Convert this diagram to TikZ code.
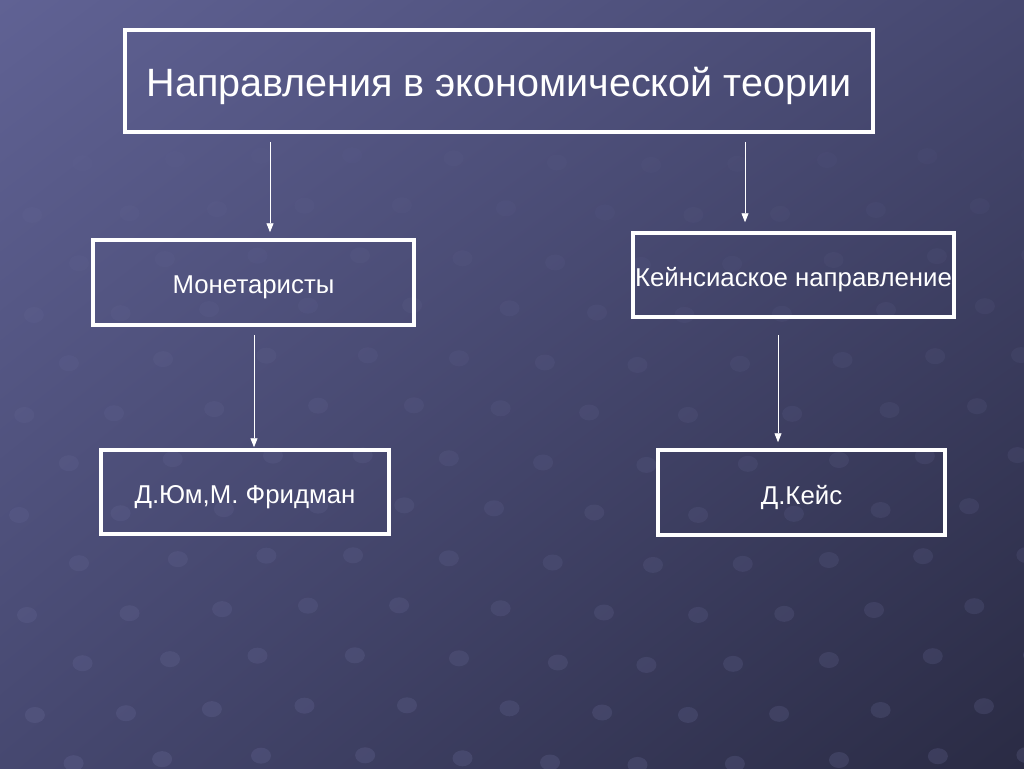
\documentclass[tikz,border=0pt]{standalone}
\usepackage{fontspec}
\setmainfont{Liberation Sans}
\usetikzlibrary{arrows.meta,shadings}
\definecolor{bgtop}{RGB}{96,98,148}
\definecolor{bgmid}{RGB}{70,72,112}
\definecolor{bgbot}{RGB}{42,43,68}
\definecolor{dotc}{RGB}{120,122,170}
\newcommand{\lowtxt}[1]{\raisebox{-5pt}[\height][\depth]{#1}}
\begin{document}
\begin{tikzpicture}[x=1pt,y=-1pt,>={Triangle[length=9pt,width=7pt]},
    box/.style={draw=white,line width=3.5pt,inner sep=0pt,text=white},
    arr/.style={->,white,line width=0.8pt}]
                \useasboundingbox (0,0) rectangle (1024,768);
                \shade[upper left=bgtop,upper right=bgmid,lower left=bgmid,lower right=bgbot] (0,0) rectangle (1024,768);
                % background dots
                \foreach \j in {0,...,12}
                  \foreach \i in {0,...,11}
                    \fill[dotc,opacity={0.05+0.013*\j}] ({mod(\j,2)*47+\i*95-20+8*sin(\i*70+\j*40)},{160+\j*50+5*cos(\i*50)}) ellipse (10pt and 8pt);
                \node[box,minimum width=748pt,minimum height=102pt,font=\fontsize{39.5}{46}\selectfont] (title) at (499,81) {\lowtxt{Направления в экономической теории}};
                \node[box,minimum width=321pt,minimum height=85pt,font=\fontsize{25.8}{30}\selectfont] (mon) at (253.5,282.5) {\lowtxt{Монетаристы}};
                \node[box,minimum width=321pt,minimum height=84pt,font=\fontsize{25.8}{30}\selectfont] (keyn) at (793.5,275) {\lowtxt{Кейнсиаское направление}};
                \node[box,minimum width=288pt,minimum height=84pt,font=\fontsize{25.8}{30}\selectfont] (hume) at (245,492) {\lowtxt{Д.Юм,М. Фридман}};
                \node[box,minimum width=287pt,minimum height=85pt,font=\fontsize{25.8}{30}\selectfont] (keys) at (801.5,492.5) {\lowtxt{Д.Кейс}};
                \coordinate (c1) at (270,0);
                \coordinate (c2) at (745,0);
                \coordinate (c3) at (254,0);
                \coordinate (c4) at (778,0);
                \draw[arr,shorten <=8pt,shorten >=6pt] (title.south -| c1) -- (mon.north -| c1);
                \draw[arr,shorten <=8pt,shorten >=9pt] (title.south -| c2) -- (keyn.north -| c2);
                \draw[arr,shorten <=8pt,shorten >=1pt] (mon.south -| c3) -- (hume.north -| c3);
                \draw[arr,shorten <=16pt,shorten >=6pt] (keyn.south -| c4) -- (keys.north -| c4);
\end{tikzpicture}
\end{document}
